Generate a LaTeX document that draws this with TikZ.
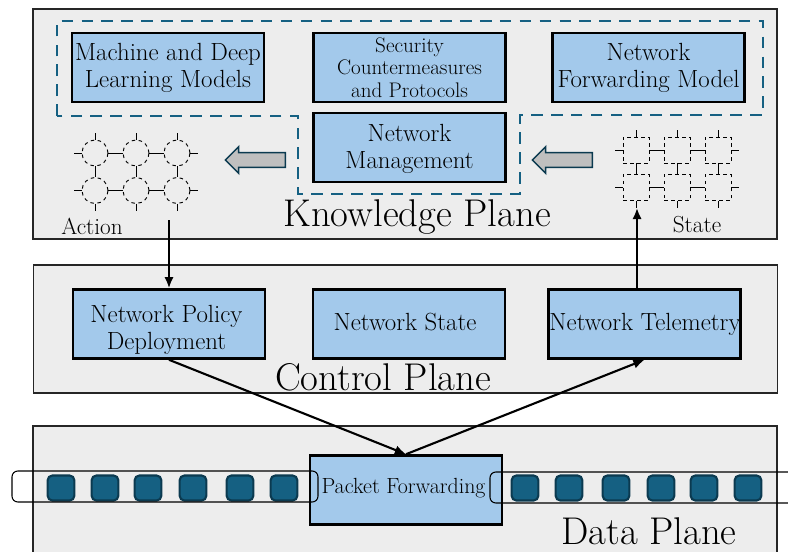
\documentclass[tikz,border=0pt]{standalone}
\usetikzlibrary{arrows.meta,shapes.arrows}
\definecolor{planegray}{HTML}{EDEDED}
\definecolor{boxblue}{HTML}{A3C9EB}
\definecolor{dashblue}{HTML}{156082}
\definecolor{darkblue}{HTML}{0B3A50}
\tikzset{
	plane/.style={draw=black!85, fill=planegray, line width=1pt, inner sep=0, minimum width=22.32cm},
	bluebox/.style={draw=black, fill=boxblue, line width=2.2pt, inner sep=0, minimum width=5.76cm, minimum height=2.07cm, align=center, font=\fontsize{21.2}{23}\selectfont},
	boxtext/.style={align=center, inner sep=0, font=\fontsize{21.2}{23}\selectfont},
	smallbox/.style={bluebox, font=\fontsize{18}{19}\selectfont},
	planelabel/.style={inner sep=0, font=\fontsize{33}{38}\selectfont},
	sidelabel/.style={font=\fontsize{19.8}{22}\selectfont},
	mesh/.style={draw=black, dashed, line width=0.8pt, inner sep=0, minimum size=0.78cm},
	pkt/.style={draw=darkblue, fill=dashblue, line width=1.8pt, rounded corners=4pt, inner sep=0, minimum width=0.8cm, minimum height=0.75cm},
	queue/.style={draw=black, line width=0.9pt, rounded corners=5pt},
	blockarrow/.style={draw=darkblue, fill=black!25, line width=1.2pt, single arrow, single arrow head extend=0.18cm, single arrow tip angle=90, inner sep=0.2cm, minimum height=1.8cm, shape border rotate=180},
	flow/.style={-{Latex[length=9.5pt, width=8pt]}, line width=1.8pt}
}
\def\netgrid[#1](#2)(#3:#4){
	\foreach \i in {0,1,2}
		\foreach \j in {0,1}
			\node[mesh, #1] (#2\i\j) at ({#3+41*\i},{#4+\j*37.5}) {};
	\foreach \i in {0,1,2}{
		\draw[line width=0.8pt] (#2\i0.north) -- ++(0,-7);
		\draw[line width=0.8pt] (#2\i1.south) -- ++(0,7);
		\draw[line width=0.8pt] (#2\i0) -- (#2\i1);
	}
	\foreach \j in {0,1}{
		\draw[line width=0.8pt] (#20\j.west) -- ++(-8,0);
		\draw[line width=0.8pt] (#22\j.east) -- ++(8,0);
		\draw[line width=0.8pt] (#20\j) -- (#21\j);
		\draw[line width=0.8pt] (#21\j) -- (#22\j);
	}
}
\begin{document}
\begin{tikzpicture}[x=0.03cm, y=-0.03cm]
	\clip (0, 0) rectangle (788, 551);
	\fill[white] (0, 0) rectangle (788, 551);

	\node[plane, minimum height=6.9cm] (knowplane) at (405, 124) {};
	\node[plane, minimum height=3.84cm] (ctrlplane) at (405.5, 329) {};
	\node[plane, minimum height=4.2cm] (dataplane) at (405, 496) {};

	\draw[dashblue, line width=2pt, dash pattern=on 10pt off 7pt] (57, 116) -- (57, 21) -- (763, 21) -- (763, 115) -- (520, 115) -- (520, 194) -- (298, 194) -- (298, 116) -- cycle;

	\node[bluebox] (mlmodels) at (168, 67.5) {Machine and Deep\\Learning Models};
	\node[smallbox] (security) at (409.5, 67.5) {Security\\Countermeasures\\and Protocols};
	\node[bluebox] (fwdmodel) at (648.5, 67.5) {Network\\Forwarding Model};
	\node[bluebox] (netmgmt) at (409.5, 147.5) {};
	\node[boxtext] (mgmttext) at (409.5, 149) {Network\\Management};

	\netgrid[circle](act)(95:153)
	\netgrid[rectangle](stat)(636:150)

	\node[blockarrow] (actarrow) at (259, 160) {};
	\node[blockarrow] (statarrow) at (566, 160) {};

	\node[sidelabel] (action) at (92, 226) {Action};
	\node[sidelabel] (state) at (697, 225) {State};
	\node[planelabel] (knowlabel) at (417, 217) {Knowledge Plane};

	\node[bluebox] (policy) at (169, 324) {};
	\node[boxtext] (policytext) at (166.5, 330) {Network Policy\\Deployment};
	\node[bluebox] (netstate) at (409, 324) {};
	\node[boxtext] (statetext) at (405, 322) {Network State};
	\node[bluebox] (telemetry) at (644.5, 324) {};
	\node[boxtext] (teletext) at (645, 324) {Network Telemetry};
	\node[planelabel] (ctrllabel) at (383, 377) {Control Plane};

	\node[bluebox] (packet) at (406, 490) {};
	\node[boxtext, font=\fontsize{18.7}{20}\selectfont] (pktlabel) at (403.5, 488) {Packet Forwarding};
	\node[planelabel] (datalabel) at (649, 531.5) {Data Plane};

	\foreach \x [count=\n] in {61, 105, 148, 193, 240, 284}
		\node[pkt] (inq\n) at (\x, 488) {};
	\foreach \x [count=\n] in {525, 569, 616, 661, 704, 748}
		\node[pkt] (outq\n) at (\x, 488) {};
	\draw[queue] (12, 471) rectangle (318, 502);
	\draw[queue] (810, 472) -- (490, 472) -- (490, 503) -- (810, 503);

	\coordinate (actout) at (169, 220);
	\coordinate (statin) at (637, 208);
	\coordinate (teletop) at (637, 290);
	\draw[flow] (actout) -- (policy.north);
	\draw[flow] (teletop) -- (statin);
	\draw[flow] (policy.south) -- (packet.north);
	\draw[flow] (packet.north) -- (telemetry.south);
\end{tikzpicture}
\end{document}
